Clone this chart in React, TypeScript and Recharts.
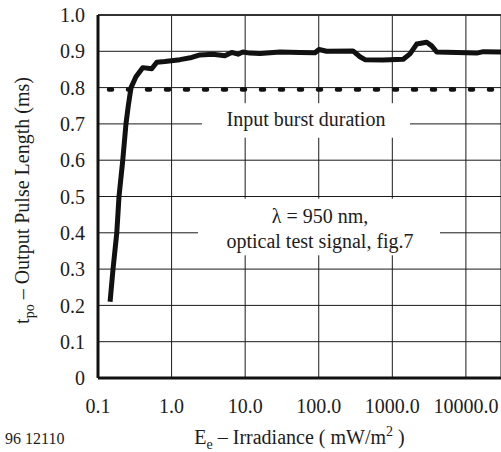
import { CartesianGrid, Line, LineChart, ReferenceArea, ReferenceLine, XAxis, YAxis } from 'recharts';

const ink = '#1c1c1c';

// irradiance in mW/m2 (log axis) and the measured output pulse length in ms
const irradiance = [
  0.146, 0.16, 0.18, 0.193, 0.217, 0.24, 0.258, 0.281, 0.328, 0.405, 0.537, 0.63, 0.81, 1.3, 1.88, 2.43, 3.65, 5.3,
  6.56, 8.0, 9.3, 11.6, 15.9, 29.8, 55.6, 88.9, 100.8, 128, 292, 363, 425, 747, 1409, 1738, 2143, 2931, 3428, 4011,
  7500, 14030, 17270, 30000,
];
const pulseLength = [
  0.21, 0.3, 0.4, 0.5, 0.6, 0.7, 0.75, 0.8, 0.83, 0.855, 0.852, 0.87, 0.872, 0.877, 0.883, 0.89, 0.892, 0.888,
  0.897, 0.892, 0.898, 0.895, 0.894, 0.898, 0.897, 0.896, 0.905, 0.9, 0.901, 0.885, 0.877, 0.876, 0.878, 0.893,
  0.92, 0.925, 0.915, 0.898, 0.897, 0.895, 0.899, 0.898,
];

const xTicks = [0.1, 1, 10, 100, 1000, 10000];
const yTicks = [0, 0.1, 0.2, 0.3, 0.4, 0.5, 0.6, 0.7, 0.8, 0.9, 1.0];
const burstDuration = 0.795;

const data = irradiance.map((x, i) => ({ x, y: pulseLength[i] }));

const fmtX = (v: number) => (v === 0.1 ? '0.1' : v.toFixed(1));
const fmtY = (v: number) => (v === 0 ? '0' : v.toFixed(1));

function XLabel({ viewBox }: any) {
  const cx = viewBox.x + viewBox.width / 2;
  const base = viewBox.y + 66;
  return (
    <g fill={ink}>
      <text x={5} y={base} fontSize={16}>96 12110</text>
      <text x={cx} y={base} fontSize={20} textAnchor="middle">
        E<tspan dy={5} fontSize={14}>e</tspan>
        <tspan dy={-5}> – Irradiance ( mW/m</tspan>
        <tspan dy={-8} fontSize={14}>2</tspan>
        <tspan dy={8}> )</tspan>
      </text>
    </g>
  );
}

function YLabel({ viewBox }: any) {
  const cx = 29;
  const cy = viewBox.y + viewBox.height / 2 + 4;
  return (
    <text x={cx} y={cy} transform={`rotate(-90, ${cx}, ${cy})`} textAnchor="middle" fontSize={20} fill={ink}>
      t<tspan dy={5} fontSize={14}>po</tspan>
      <tspan dy={-5}> – Output Pulse Length (ms)</tspan>
    </text>
  );
}

// white box behind the annotation so the grid stops around the text
function BurstLabel({ viewBox }: any) {
  const cx = viewBox.x + viewBox.width / 2;
  return (
    <g>
      <rect x={viewBox.x} y={viewBox.y} width={viewBox.width} height={viewBox.height} fill="#fff" />
      <text x={cx} y={viewBox.y + 23} textAnchor="middle" fontSize={20} fill={ink}>
        Input burst duration
      </text>
    </g>
  );
}

function SignalLabel({ viewBox }: any) {
  const cx = viewBox.x + viewBox.width / 2 + 1;
  return (
    <g>
      <rect x={viewBox.x} y={viewBox.y} width={viewBox.width} height={viewBox.height} fill="#fff" />
      <text textAnchor="middle" fontSize={20} fill={ink}>
        <tspan x={cx} y={viewBox.y + 24}>λ = 950 nm,</tspan>
        <tspan x={cx} y={viewBox.y + 49}>optical test signal, fig.7</tspan>
      </text>
    </g>
  );
}

export default function App() {
  return (
    <div style={{ position: 'absolute', left: 0, top: 0, background: '#fff', fontFamily: 'Times New Roman' }}>
      <LineChart width={501} height={452} data={data} margin={{ top: 15, right: 0, bottom: 0, left: 0 }}>
        <CartesianGrid stroke="#1a1a1a" strokeWidth={1} />
        <XAxis
          dataKey="x"
          type="number"
          scale="log"
          domain={[0.1, 30000]}
          ticks={xTicks}
          tickFormatter={fmtX}
          allowDataOverflow
          height={74}
          tickLine={false}
          tickSize={6}
          tickMargin={15}
          axisLine={{ stroke: '#111', strokeWidth: 3 }}
          tick={{ fontSize: 20, fill: ink }}
          interval={0}
          label={XLabel}
        />
        <YAxis
          type="number"
          domain={[0, 1]}
          ticks={yTicks}
          tickFormatter={fmtY}
          width={98}
          tickLine={false}
          tickSize={6}
          tickMargin={7}
          axisLine={{ stroke: '#111', strokeWidth: 3 }}
          tick={{ fontSize: 20, fill: ink }}
          interval={0}
          label={YLabel}
        />
        <ReferenceArea x1={2.59} x2={1738} y1={0.662} y2={0.757} fill="none" stroke="none" label={BurstLabel} />
        <ReferenceArea x1={2.29} x2={4446} y1={0.338} y2={0.494} fill="none" stroke="none" label={SignalLabel} />
        <ReferenceLine y={1} stroke="#333" strokeWidth={2} />
        <ReferenceLine
          y={burstDuration}
          stroke="#111"
          strokeWidth={4.5}
          strokeDasharray="3 16"
          strokeDashoffset={-11}
          strokeLinecap="round"
        />
        <Line
          dataKey="y"
          type="linear"
          stroke="#111"
          strokeWidth={5}
          strokeLinejoin="round"
          dot={false}
          isAnimationActive={false}
        />
      </LineChart>
    </div>
  );
}
